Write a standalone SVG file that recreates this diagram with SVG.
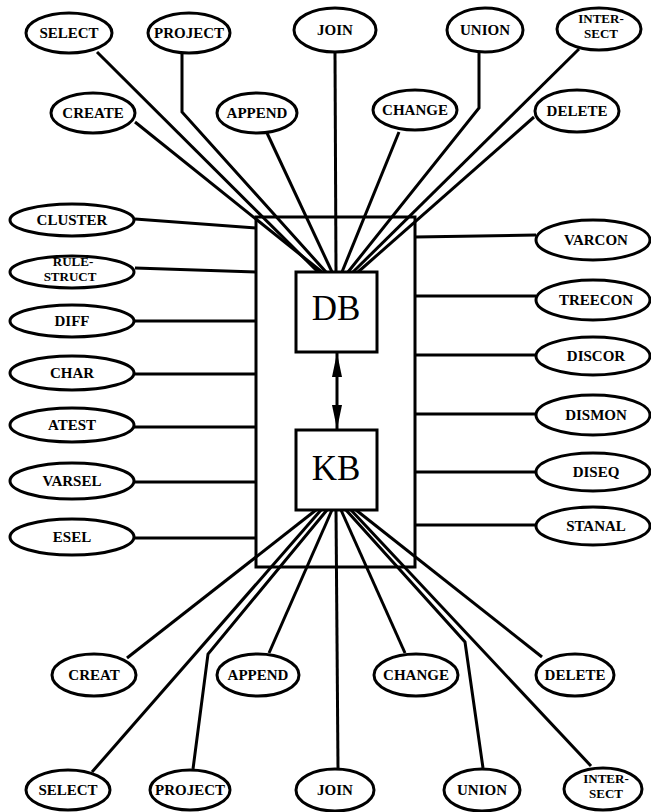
<svg xmlns="http://www.w3.org/2000/svg" width="651" height="812" viewBox="0 0 651 812">
<style>
.n ellipse{fill:#fff;stroke:#000;stroke-width:3}
.n text{font-family:"Liberation Serif","Times New Roman",Times,serif;font-weight:700;font-size:15px;text-anchor:middle;fill:#000}
.n text.s{font-size:13px}
.c line,.c polyline{stroke:#000;stroke-width:3;fill:none}
.box rect{fill:#fff;stroke:#000;stroke-width:3}
.box text{font-family:"Liberation Serif","Times New Roman",Times,serif;font-size:35px;text-anchor:middle;fill:#000}
</style>
<defs>
<marker id="ah" viewBox="0 0 24 10" refX="24" refY="5" markerWidth="24" markerHeight="10" markerUnits="userSpaceOnUse" orient="auto-start-reverse">
<path d="M0,0 L24,5 L0,10 Z" fill="#000"/>
</marker>
</defs>
<rect width="651" height="812" fill="#fff"/>
<g id="frame"><rect x="256" y="217" width="159" height="350" fill="none" stroke="#000" stroke-width="3"/></g>
<g class="c" id="connectors">
<line x1="97" y1="52" x2="318" y2="272"/>
<line x1="135" y1="122" x2="322" y2="272"/>
<polyline points="182,53 182,112 326,272"/>
<line x1="267" y1="133" x2="332" y2="272"/>
<line x1="335" y1="53" x2="336" y2="272"/>
<line x1="399" y1="132" x2="342" y2="272"/>
<polyline points="479,53 479,108 348,272"/>
<line x1="579" y1="49" x2="353" y2="272"/>
<line x1="534" y1="117" x2="358" y2="272"/>
<line x1="135" y1="219" x2="256" y2="228"/>
<line x1="135" y1="268" x2="256" y2="272"/>
<line x1="135" y1="321" x2="256" y2="321"/>
<line x1="135" y1="374" x2="256" y2="374"/>
<line x1="134" y1="427" x2="256" y2="427"/>
<line x1="135" y1="482" x2="256" y2="482"/>
<line x1="135" y1="538" x2="256" y2="538"/>
<line x1="415" y1="237" x2="536" y2="235"/>
<line x1="415" y1="296" x2="536" y2="296"/>
<line x1="415" y1="355" x2="536" y2="355"/>
<line x1="415" y1="414" x2="536" y2="414"/>
<line x1="415" y1="472" x2="536" y2="472"/>
<line x1="415" y1="525" x2="536" y2="525"/>
<line x1="127" y1="658" x2="316" y2="510"/>
<line x1="92" y1="772" x2="321" y2="510"/>
<polyline points="193,769 208,654 327,510"/>
<line x1="269" y1="653" x2="332" y2="510"/>
<line x1="338" y1="768" x2="336" y2="510"/>
<line x1="405" y1="653" x2="341" y2="510"/>
<polyline points="483,768 465,642 346,510"/>
<line x1="591" y1="766" x2="351" y2="510"/>
<line x1="542" y1="657" x2="356" y2="510"/>
<line x1="337" y1="353" x2="337" y2="429" marker-start="url(#ah)" marker-end="url(#ah)"/>
</g>
<g class="box" id="DB"><rect x="296" y="272" width="81" height="80"/><text x="336" y="320">DB</text></g>
<g class="box" id="KB"><rect x="296" y="430" width="81" height="80"/><text x="336" y="480">KB</text></g>
<g class="n" id="t-select"><ellipse cx="69" cy="33" rx="43" ry="20"/><text x="69" y="38">SELECT</text></g>
<g class="n" id="t-project"><ellipse cx="189" cy="33" rx="41" ry="20"/><text x="189" y="38">PROJECT</text></g>
<g class="n" id="t-join"><ellipse cx="335" cy="30" rx="41" ry="22"/><text x="335" y="35">JOIN</text></g>
<g class="n" id="t-union"><ellipse cx="485" cy="30" rx="38" ry="22"/><text x="485" y="35">UNION</text></g>
<g class="n" id="t-intersect"><ellipse cx="599" cy="29" rx="42" ry="21"/><text class="s" x="601" y="23">INTER-</text><text class="s" x="601" y="38">SECT</text></g>
<g class="n" id="t-create"><ellipse cx="93" cy="113" rx="42" ry="20"/><text x="93" y="118">CREATE</text></g>
<g class="n" id="t-append"><ellipse cx="257" cy="113" rx="40" ry="20"/><text x="257" y="118">APPEND</text></g>
<g class="n" id="t-change"><ellipse cx="415" cy="110" rx="42" ry="20"/><text x="415" y="115">CHANGE</text></g>
<g class="n" id="t-delete"><ellipse cx="577" cy="111" rx="42" ry="21"/><text x="577" y="116">DELETE</text></g>
<g class="n" id="l-cluster"><ellipse cx="72" cy="220" rx="62" ry="16"/><text x="72" y="225">CLUSTER</text></g>
<g class="n" id="l-rulestruct"><ellipse cx="72" cy="272" rx="62" ry="16"/><text class="s" x="73" y="266">RULE-</text><text class="s" x="70" y="281">STRUCT</text></g>
<g class="n" id="l-diff"><ellipse cx="72" cy="321" rx="62" ry="16"/><text x="72" y="326">DIFF</text></g>
<g class="n" id="l-char"><ellipse cx="72" cy="373" rx="62" ry="17"/><text x="72" y="378">CHAR</text></g>
<g class="n" id="l-atest"><ellipse cx="72" cy="425" rx="62" ry="17"/><text x="72" y="430">ATEST</text></g>
<g class="n" id="l-varsel"><ellipse cx="72" cy="481" rx="62" ry="18"/><text x="72" y="486">VARSEL</text></g>
<g class="n" id="l-esel"><ellipse cx="72" cy="537" rx="62" ry="18"/><text x="72" y="542">ESEL</text></g>
<g class="n" id="r-varcon"><ellipse cx="593" cy="240" rx="57" ry="20"/><text x="596" y="245">VARCON</text></g>
<g class="n" id="r-treecon"><ellipse cx="593" cy="300" rx="57" ry="20"/><text x="596" y="305">TREECON</text></g>
<g class="n" id="r-discor"><ellipse cx="593" cy="356" rx="57" ry="19"/><text x="596" y="361">DISCOR</text></g>
<g class="n" id="r-dismon"><ellipse cx="593" cy="415" rx="57" ry="20"/><text x="596" y="420">DISMON</text></g>
<g class="n" id="r-diseq"><ellipse cx="593" cy="472" rx="57" ry="19"/><text x="596" y="477">DISEQ</text></g>
<g class="n" id="r-stanal"><ellipse cx="593" cy="526" rx="57" ry="19"/><text x="596" y="531">STANAL</text></g>
<g class="n" id="b-creat"><ellipse cx="94" cy="675" rx="42" ry="21"/><text x="94" y="680">CREAT</text></g>
<g class="n" id="b-append"><ellipse cx="258" cy="675" rx="41" ry="21"/><text x="258" y="680">APPEND</text></g>
<g class="n" id="b-change"><ellipse cx="416" cy="675" rx="42" ry="21"/><text x="416" y="680">CHANGE</text></g>
<g class="n" id="b-delete"><ellipse cx="575" cy="675" rx="39" ry="21"/><text x="575" y="680">DELETE</text></g>
<g class="n" id="b-select"><ellipse cx="68" cy="790" rx="42" ry="20"/><text x="68" y="795">SELECT</text></g>
<g class="n" id="b-project"><ellipse cx="190" cy="790" rx="40" ry="20"/><text x="190" y="795">PROJECT</text></g>
<g class="n" id="b-join"><ellipse cx="335" cy="790" rx="39" ry="21"/><text x="335" y="795">JOIN</text></g>
<g class="n" id="b-union"><ellipse cx="482" cy="790" rx="38" ry="21"/><text x="482" y="795">UNION</text></g>
<g class="n" id="b-intersect"><ellipse cx="603" cy="789" rx="39" ry="21"/><text class="s" x="606" y="783">INTER-</text><text class="s" x="606" y="798">SECT</text></g>
</svg>
